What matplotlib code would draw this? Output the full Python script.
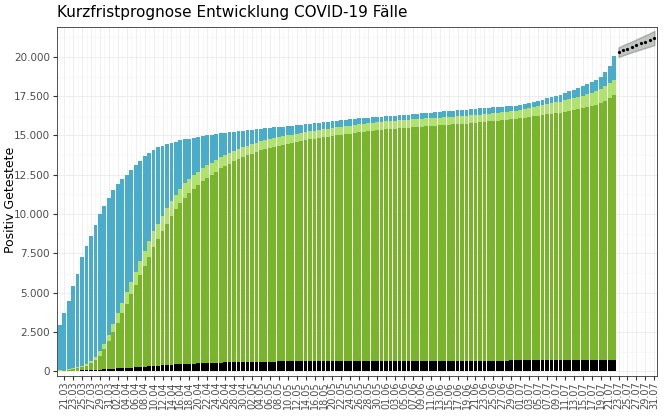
import numpy as np
import pandas as pd
import matplotlib.pyplot as plt
from matplotlib.ticker import FuncFormatter, MultipleLocator

# tages-daten 20.03. - 22.07.
dates = pd.date_range("2020-03-20", "2020-07-22")

total = np.array([
    2930, 3700, 4500, 5400, 6200, 7300, 8000, 8600, 9300, 10000, 10500, 11000,
    11500, 11900, 12200, 12500, 12800, 13100, 13400, 13700, 13900, 14100, 14250, 14350, 14450, 14550, 14600,
    14700, 14750, 14800, 14850, 14900, 14950, 15000, 15050, 15100, 15150, 15180, 15210, 15240, 15270, 15300,
    15330, 15360, 15390, 15420, 15450, 15480, 15510, 15540, 15570, 15600, 15630, 15660, 15690, 15720, 15750,
    15780, 15810, 15840, 15870, 15900, 15930, 15960, 15990, 16020, 16050, 16080, 16110, 16140, 16160, 16180, 16200,
    16220, 16240, 16260, 16290, 16310, 16330, 16360, 16380, 16400, 16430, 16450, 16480, 16500, 16530, 16550,
    16580, 16600, 16630, 16650, 16680, 16700, 16720, 16740, 16760, 16780, 16800, 16830, 16850, 16870, 16900,
    16950, 17000, 17060, 17120, 17200, 17280, 17360, 17440, 17520, 17600, 17700, 17800, 17920, 18040, 18160,
    18280, 18400, 18550, 18700, 19050, 19400, 20050])

recovered = np.array([
    40, 60, 90, 130, 180, 250, 350, 500, 700, 1000, 1400, 1900,
    2500, 3100, 3700, 4300, 4900, 5500, 6100, 6700, 7300, 7900, 8400, 8900, 9400, 9900, 10300,
    10700, 11050, 11350, 11600, 11850, 12100, 12300, 12500, 12700, 12900, 13050, 13200, 13350, 13500, 13620,
    13740, 13850, 13950, 14050, 14140, 14220, 14290, 14360, 14420, 14480, 14540, 14600, 14650, 14700, 14750,
    14800, 14840, 14880, 14920, 14960, 15000, 15040, 15080, 15120, 15160, 15200, 15240, 15280, 15310, 15340, 15370,
    15400, 15420, 15440, 15460, 15480, 15500, 15520, 15540, 15560, 15580, 15600, 15620, 15640, 15660, 15680,
    15700, 15720, 15740, 15760, 15780, 15800, 15830, 15860, 15890, 15920, 15950, 15980, 16010, 16040, 16070,
    16100, 16140, 16180, 16220, 16260, 16300, 16340, 16380, 16420, 16460, 16510, 16560, 16610, 16670, 16730,
    16800, 16880, 16970, 17080, 17220, 17400, 17600])

# hellgruene schicht (dicke)
light = np.array([
    10, 20, 30, 50, 70, 100, 130, 170, 220, 280, 350, 420,
    500, 580, 650, 720, 780, 840, 900, 950, 1000, 1000, 1000, 1000, 980, 960, 940,
    920, 900, 880, 860, 840, 820, 800, 780, 760, 740, 720, 700, 680, 660, 640,
    620, 600, 590, 580, 570, 560, 550, 540, 530, 520, 510, 510, 510, 510, 510,
    510, 510, 510, 510, 510, 510, 510, 510, 510, 510, 510, 510, 510, 510, 510, 510,
    500, 500, 500, 500, 500, 500, 500, 500, 500, 500, 500, 500, 500, 500, 500,
    500, 500, 500, 500, 500, 500, 500, 500, 500, 500, 500, 500, 500, 500, 500,
    520, 540, 560, 580, 600, 620, 640, 660, 680, 700, 720, 740, 760, 780, 800,
    820, 840, 860, 880, 900, 920, 950])

deaths = np.array([
    10, 15, 20, 30, 40, 50, 60, 75, 90, 105, 120, 140,
    160, 180, 200, 220, 240, 260, 280, 300, 320, 340, 360, 380, 400, 420, 440,
    460, 470, 480, 490, 500, 510, 520, 530, 540, 550, 560, 570, 580, 590, 600,
    605, 610, 612, 615, 618, 620, 622, 625, 627, 630, 632, 634, 636, 638, 640,
    642, 644, 645, 646, 647, 648, 649, 650, 651, 652, 653, 654, 655, 656, 657, 658,
    660, 660, 661, 662, 663, 664, 665, 666, 667, 668, 669, 670, 671, 672, 673,
    674, 675, 676, 677, 678, 679, 680, 680, 681, 682, 683, 684, 685, 686, 687,
    688, 689, 690, 691, 692, 693, 694, 695, 696, 697, 698, 699, 700, 701, 702,
    703, 704, 705, 706, 707, 708, 710])

# prognose 23.07. - 31.07.
fc_dates = pd.date_range("2020-07-23", "2020-07-31")
fc_mid = np.array([20300, 20420, 20530, 20640, 20750, 20860, 20970, 21080, 21200])
fc_lo = np.array([20000, 20100, 20200, 20300, 20390, 20480, 20570, 20660, 20750])
fc_hi = np.array([20600, 20740, 20860, 20980, 21110, 21240, 21370, 21500, 21650])

all_dates = pd.date_range("2020-03-20", "2020-07-31")
x = np.arange(len(dates))
xf = np.arange(len(dates), len(dates) + len(fc_dates))

fig = plt.figure(figsize=(6.65, 4.16), dpi=100)
ax = fig.add_axes([57/665, 40/416, 600/665, 349/416])

w = 0.85
ax.bar(x, total, width=w, color="#4aaccb", zorder=2)
ax.bar(x, recovered + light, width=w, color="#b0e36d", zorder=2)
ax.bar(x, recovered, width=w, color="#78b52b", zorder=2)
ax.bar(x, deaths, width=w, color="black", zorder=2)

ax.fill_between(xf, fc_lo, fc_hi, color="#9aa29e", alpha=0.6, edgecolor="#888888", zorder=3)
ax.plot(xf, fc_mid, linestyle="none", marker="o", markersize=1.3, color="black", zorder=4)

ax.set_xlim(-0.6, len(all_dates) - 0.4)
ax.set_ylim(-300, 21900)
ticks = np.arange(1, len(all_dates), 2)
ax.set_xticks(ticks)
ax.set_xticklabels([all_dates[i].strftime("%d.%m") for i in ticks], rotation=90, fontsize=7, color="#4d4d4d")
ax.xaxis.set_minor_locator(MultipleLocator(1))
ax.yaxis.set_major_locator(MultipleLocator(2500))
ax.yaxis.set_minor_locator(MultipleLocator(1250))
ax.yaxis.set_major_formatter(FuncFormatter(lambda v, p: f"{int(v):,}".replace(",", ".")))
ax.tick_params(axis="y", labelsize=7.5, labelcolor="#4d4d4d", color="#333333", length=3, pad=2)
ax.tick_params(axis="x", color="#333333", length=3, pad=1)
ax.tick_params(which="minor", length=0)
ax.grid(which="major", color="#ebebeb", linewidth=0.6, zorder=0)
ax.grid(which="minor", color="#f4f4f4", linewidth=0.4, zorder=0)
ax.set_axisbelow(True)
for s in ax.spines.values():
    s.set_color("#333333")
    s.set_linewidth(0.6)

fig.text(11/665, 1 - 200/416, "Positiv Getestete", fontsize=9, rotation=90, va="center", ha="center")
fig.text(57/665, 1 - 13/416, "Kurzfristprognose Entwicklung COVID-19 Fälle", fontsize=11, va="center")

fig.savefig("out.png", dpi=100)
